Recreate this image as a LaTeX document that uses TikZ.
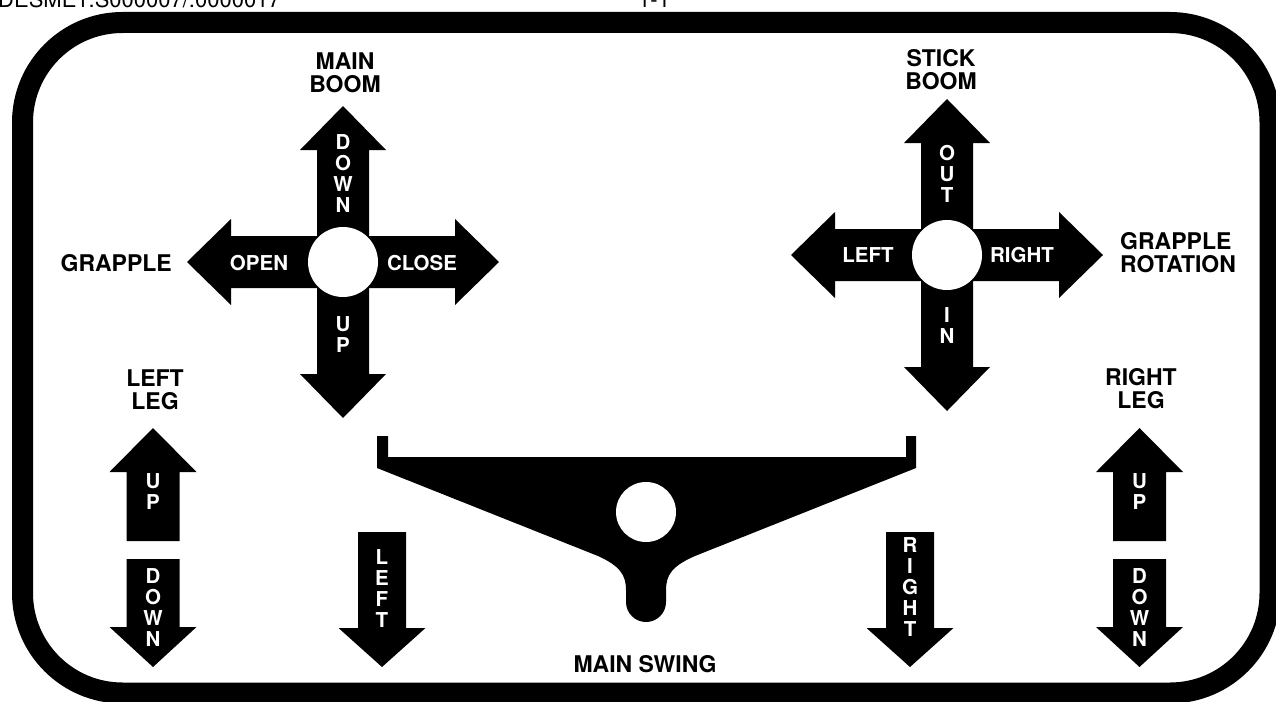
\documentclass[tikz,border=0pt]{standalone}
\usepackage{fontspec}
\setmainfont{TeX Gyre Heros}

\tikzset{
  outlbl/.style={font=\fontsize{23}{23}\selectfont\bfseries, align=center, inner sep=0pt},
  inlbl/.style={font=\fontsize{20.5}{21}\selectfont\bfseries, text=white, align=center, inner sep=0pt},
  hdr/.style={font=\fontsize{22}{22}\selectfont, anchor=base west, inner sep=0pt}
}

\begin{document}
\begin{tikzpicture}[x=1pt, y=-1pt]

    \useasboundingbox (0,0) rectangle (1276,701);

    % clipped header line
    \node[hdr] (hdrl) at (-2,8) {DESME1.S000007/.0000017};
    \node[hdr] (hdrr) at (638,8) {1-1};

    % frame
    \draw[line width=21pt, rounded corners=100pt] (22.5,22.5) rectangle (1270,693);

    % main boom / grapple cross
    \fill (343,106) -- (386,150) -- (369,150) -- (369,236) -- (455,236) -- (455,219)
      -- (499,262) -- (455,305) -- (455,288) -- (369,288) -- (369,374) -- (386,374)
      -- (343,418) -- (300,374) -- (317,374) -- (317,288) -- (231,288) -- (231,305)
      -- (187,262) -- (231,219) -- (231,236) -- (317,236) -- (317,150) -- (300,150) -- cycle;
    \fill[white] (343,262) circle (35);

    % stick boom / grapple rotation cross
    \fill (947,99) -- (990,143) -- (973,143) -- (973,229) -- (1059,229) -- (1059,212)
      -- (1103,255) -- (1059,298) -- (1059,281) -- (973,281) -- (973,367) -- (990,367)
      -- (947,411) -- (904,367) -- (921,367) -- (921,281) -- (835,281) -- (835,298)
      -- (791,255) -- (835,212) -- (835,229) -- (921,229) -- (921,143) -- (904,143) -- cycle;
    \fill[white] (947,255) circle (35);

    % leg arrows
    \fill (153,428) -- (196.5,472) -- (179.5,472) -- (179.5,541) -- (126.5,541) -- (126.5,472) -- (109.5,472) -- cycle;
    \fill (126.5,559) -- (179.5,559) -- (179.5,627) -- (196.5,627) -- (153,667) -- (109.5,627) -- (126.5,627) -- cycle;
    \fill (1139.5,428) -- (1183,472) -- (1166,472) -- (1166,541) -- (1113,541) -- (1113,472) -- (1096,472) -- cycle;
    \fill (1113,559) -- (1166,559) -- (1166,627) -- (1183,627) -- (1139.5,667) -- (1096,627) -- (1113,627) -- cycle;

    % swing arrows
    \fill (358,532) -- (406,532) -- (406,628) -- (425.5,628) -- (382,667) -- (338.5,628) -- (358,628) -- cycle;
    \fill (886,532) -- (934,532) -- (934,628) -- (953.5,628) -- (910,667) -- (866.5,628) -- (886,628) -- cycle;

    % swing lever
    \fill (377,436) -- (388,436) -- (388,457) -- (906,457) -- (906,436) -- (916,436) -- (916,468)
      -- (695,556) .. controls (672,566) and (666,575) .. (666,590) -- (666,602)
      arc (0:180:20) -- (626,590) .. controls (626,575) and (620,566) .. (598,556) -- (377,468) -- cycle;
    \fill[white] (646,512) circle (30);

    % outside labels
    \node[outlbl] (mboom) at (345,72.5) {MAIN\\BOOM};
    \node[outlbl] (sboom) at (941,69.5) {STICK\\BOOM};
    \node[outlbl, anchor=east] (grap) at (172,263) {GRAPPLE};
    \node[outlbl, anchor=west, align=left] (grot) at (1120,253) {GRAPPLE\\ROTATION};
    \node[outlbl] (lleg) at (155,390) {LEFT\\LEG};
    \node[outlbl] (rleg) at (1141,389) {RIGHT\\LEG};
    \node[outlbl] (mswing) at (645,664) {MAIN SWING};

    % labels on the arrows
    \node[inlbl] (mdown) at (343,174) {D\\O\\W\\N};
    \node[inlbl] (mup) at (343,335) {U\\P};
    \node[inlbl] (gopen) at (259,263) {OPEN};
    \node[inlbl] (gclose) at (422,263) {CLOSE};
    \node[inlbl] (sout) at (947,173.5) {O\\U\\T};
    \node[inlbl] (sin) at (947,325.5) {I\\N};
    \node[inlbl] (rleft) at (868,255) {LEFT};
    \node[inlbl] (rright) at (1022,255) {RIGHT};
    \node[inlbl] (llup) at (153,491.5) {U\\P};
    \node[inlbl] (lldown) at (153,607.5) {D\\O\\W\\N};
    \node[inlbl] (rlup) at (1139.5,491.5) {U\\P};
    \node[inlbl] (rldown) at (1139.5,607.5) {D\\O\\W\\N};
    \node[inlbl] (swleft) at (382,588.5) {L\\E\\F\\T};
    \node[inlbl] (swright) at (910,587.5) {R\\I\\G\\H\\T};

\end{tikzpicture}
\end{document}
